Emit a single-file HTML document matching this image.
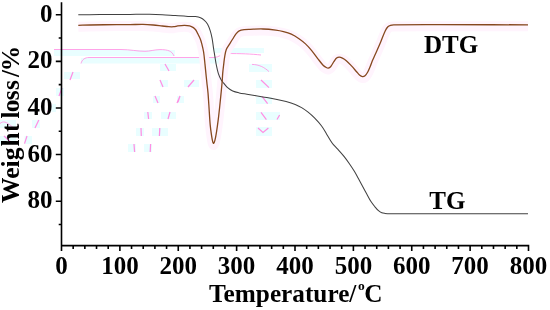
<!DOCTYPE html>
<html><head><meta charset="utf-8"><title>TG-DTG</title>
<style>
html,body{margin:0;padding:0;background:#fff;}
body{width:550px;height:310px;overflow:hidden;}
svg{display:block;}
text{font-family:"Liberation Serif","DejaVu Serif",serif;font-weight:bold;font-size:25px;fill:#000;}
</style></head><body>
<svg width="550" height="310" viewBox="0 0 550 310">
<rect width="550" height="310" fill="#fff"/>
<g><rect x="54" y="50" width="121" height="6" fill="#e9feff"/>
<rect x="214" y="48" width="50" height="5" fill="#e9feff"/>
<rect x="81" y="58" width="145" height="5.5" fill="#e9feff"/>
<rect x="64" y="72" width="16" height="7" fill="#e9feff"/>
<rect x="56" y="88" width="8" height="8" fill="#e9feff"/>
<rect x="160" y="64" width="16" height="7" fill="#e9feff"/>
<rect x="160" y="80" width="8" height="7" fill="#e9feff"/>
<rect x="184" y="80" width="15" height="7" fill="#e9feff"/>
<rect x="153" y="96" width="7" height="7" fill="#e9feff"/>
<rect x="177" y="96" width="7" height="7" fill="#e9feff"/>
<rect x="144" y="112" width="8" height="7" fill="#e9feff"/>
<rect x="161" y="112" width="15" height="7" fill="#e9feff"/>
<rect x="136" y="128" width="8" height="8" fill="#e9feff"/>
<rect x="152" y="128" width="16" height="8" fill="#e9feff"/>
<rect x="128" y="144" width="8" height="8" fill="#e9feff"/>
<rect x="144" y="144" width="8" height="8" fill="#e9feff"/>
<rect x="200" y="64" width="8" height="7" fill="#e9feff"/>
<rect x="249" y="64" width="23" height="8" fill="#e9feff"/>
<rect x="256" y="80" width="16" height="8" fill="#e9feff"/>
<rect x="256" y="97" width="16" height="7" fill="#e9feff"/>
<rect x="256" y="112" width="24" height="8" fill="#e9feff"/>
<rect x="256" y="127" width="16" height="9" fill="#e9feff"/>
<rect x="32" y="120" width="8" height="8" fill="#e9feff"/>
<rect x="51.5" y="104" width="4.5" height="8" fill="#e9feff"/>
<rect x="0" y="120" width="16" height="8" fill="#e9feff"/>
<rect x="24.5" y="136" width="7.5" height="8" fill="#e9feff"/>
<rect x="0" y="136" width="16" height="8" fill="#e9feff"/>
<path d="M70,80 L73,72 M59,96 L62,88 M165,64 L169,71 M160,80 L163,87 M194,80 L188,87 M155,96 L158,103 M180,96 L177,103 M147.8,112 L148.6,119 M170,112 L168,119 M206,64 L202,71 M141,128 L141.3,136 M159.8,128 L159.4,136 M134,144 L134.6,152 M150.6,144 L150.2,152 M261,80 L269,87.6 M262,96.4 L267.6,103.6 M261,112.4 L266.4,119.6 M277,119.5 L279.6,115 M35,128 L38.8,120 M47.7,112.3 L51,104.5 M24.5,143.6 L27,136 M4,136 L13,144 M178,102 L180,96 M258,128 L263,132.4 L268.4,128" fill="none" stroke="#ff8fe3" stroke-width="1.25"/>
<path d="M54,49.5 H121 C130,49.5 137,51.3 145,51.3 C150,51.3 154,49.7 160,49.6 C168,49.6 172,51 174,56 M81,63.5 C82,59.5 85,57.5 89,57.5 H214 C219,57.5 221,53.8 227,53.6 C240,53.4 252,54 261,55 M252,64.4 C259,64.6 264,67 269,71.6 M0,123.5 C3,121 6,121 13,127.5" fill="none" stroke="#ff98e5" stroke-width="0.9"/></g>
<path d="M61.50,2.30 V245.60 H529.30 M61.50,245.60 v5.30 M73.17,245.60 v3.30 M84.85,245.60 v3.30 M96.53,245.60 v3.30 M108.20,245.60 v3.30 M119.88,245.60 v5.30 M131.55,245.60 v3.30 M143.22,245.60 v3.30 M154.90,245.60 v3.30 M166.57,245.60 v3.30 M178.25,245.60 v5.30 M189.93,245.60 v3.30 M201.60,245.60 v3.30 M213.28,245.60 v3.30 M224.95,245.60 v3.30 M236.62,245.60 v5.30 M248.30,245.60 v3.30 M259.98,245.60 v3.30 M271.65,245.60 v3.30 M283.32,245.60 v3.30 M295.00,245.60 v5.30 M306.68,245.60 v3.30 M318.35,245.60 v3.30 M330.02,245.60 v3.30 M341.70,245.60 v3.30 M353.38,245.60 v5.30 M365.05,245.60 v3.30 M376.73,245.60 v3.30 M388.40,245.60 v3.30 M400.07,245.60 v3.30 M411.75,245.60 v5.30 M423.43,245.60 v3.30 M435.10,245.60 v3.30 M446.77,245.60 v3.30 M458.45,245.60 v3.30 M470.12,245.60 v5.30 M481.80,245.60 v3.30 M493.48,245.60 v3.30 M505.15,245.60 v3.30 M516.83,245.60 v3.30 M528.50,245.60 v5.30 M61.50,14.70 h-5.70 M61.50,38.01 h-2.80 M61.50,61.33 h-5.70 M61.50,84.64 h-2.80 M61.50,107.95 h-5.70 M61.50,131.26 h-2.80 M61.50,154.57 h-5.70 M61.50,177.89 h-2.80 M61.50,201.20 h-5.70 M61.50,224.51 h-2.80" fill="none" stroke="#000" stroke-width="1.6" stroke-linecap="butt" stroke-linejoin="miter"/>
<path d="M78.30,26.80 C82.20,26.70 86.10,26.57 90.00,26.50 C98.87,26.34 107.73,26.19 116.60,26.10 C121.07,26.06 125.53,26.13 130.00,26.10 C134.30,26.07 138.60,25.83 142.90,25.90 C146.34,25.96 149.77,26.22 153.20,26.50 C156.24,26.75 159.27,27.17 162.30,27.50 C164.43,27.73 166.56,28.07 168.70,28.20 C170.43,28.30 172.18,28.35 173.90,28.20 C175.18,28.09 176.42,27.57 177.70,27.40 C179.85,27.11 182.03,26.82 184.20,26.80 C186.00,26.78 187.87,26.87 189.60,27.30 C190.94,27.63 192.26,28.33 193.40,29.10 C194.32,29.73 195.15,30.59 195.80,31.50 C196.62,32.65 197.16,34.02 197.80,35.30 C198.66,37.02 199.59,38.72 200.30,40.50 C200.92,42.05 201.39,43.68 201.80,45.30 C202.49,48.01 203.17,50.74 203.60,53.50 C204.24,57.60 204.56,61.76 205.00,65.90 C205.32,68.90 205.59,71.90 205.90,74.90 C206.19,77.77 206.49,80.63 206.80,83.50 C207.19,87.13 207.68,90.76 208.00,94.40 C208.38,98.69 208.60,103.00 208.90,107.30 C209.34,113.67 209.64,120.05 210.20,126.40 C210.50,129.85 210.99,133.28 211.50,136.70 C211.82,138.88 212.16,141.08 212.70,143.20 C212.86,143.82 213.33,145.06 213.60,144.90 C214.06,144.63 214.64,142.95 214.90,141.90 C215.64,138.95 216.12,135.91 216.60,132.90 C217.25,128.85 217.79,124.77 218.30,120.70 C218.86,116.24 219.32,111.77 219.80,107.30 C220.26,103.00 220.68,98.70 221.10,94.40 C221.48,90.53 221.88,86.67 222.20,82.80 C222.42,80.17 222.47,77.53 222.70,74.90 C222.97,71.89 223.34,68.90 223.70,65.90 C224.01,63.30 224.25,60.68 224.70,58.10 C225.12,55.71 225.44,53.23 226.30,51.00 C227.04,49.10 228.43,47.46 229.50,45.70 C230.56,43.96 231.61,42.22 232.70,40.50 C233.78,38.79 234.74,36.97 236.00,35.40 C236.91,34.27 237.94,33.05 239.20,32.40 C240.74,31.61 242.64,31.36 244.40,31.10 C246.24,30.83 248.13,30.86 250.00,30.80 C254.30,30.66 258.61,30.37 262.90,30.50 C267.21,30.63 271.52,31.06 275.80,31.60 C278.39,31.93 280.98,32.43 283.50,33.10 C286.14,33.80 288.82,34.56 291.30,35.70 C293.99,36.93 296.55,38.53 299.00,40.20 C301.29,41.76 303.48,43.51 305.50,45.40 C307.71,47.47 309.76,49.76 311.70,52.10 C313.89,54.73 315.79,57.60 317.90,60.30 C319.59,62.47 321.21,64.74 323.10,66.70 C324.01,67.64 325.17,68.36 326.30,69.00 C326.87,69.32 327.61,69.73 328.20,69.60 C329.11,69.40 330.15,68.75 330.80,68.00 C332.08,66.52 332.86,64.55 334.00,62.90 C334.79,61.75 335.55,60.45 336.60,59.60 C337.29,59.05 338.32,58.70 339.20,58.70 C340.26,58.70 341.42,59.12 342.40,59.60 C343.78,60.28 345.12,61.19 346.30,62.20 C348.15,63.79 349.83,65.61 351.50,67.40 C353.26,69.28 354.90,71.27 356.60,73.20 C357.66,74.40 358.59,75.78 359.80,76.80 C360.53,77.41 361.50,78.01 362.40,78.10 C363.24,78.18 364.33,77.85 365.00,77.30 C366.07,76.42 366.89,75.06 367.60,73.80 C368.63,71.96 369.38,69.95 370.20,68.00 C371.08,65.89 371.82,63.71 372.70,61.60 C373.52,59.65 374.45,57.74 375.30,55.80 C377.15,51.61 379.01,47.42 380.80,43.20 C382.35,39.55 383.60,35.76 385.30,32.20 C385.97,30.80 386.84,29.40 387.90,28.30 C388.58,27.60 389.57,27.11 390.50,26.80 C391.50,26.47 392.63,26.42 393.70,26.40 C404.46,26.22 415.23,26.21 426.00,26.20 C460.00,26.17 494.00,26.27 528.00,26.30" fill="none" stroke="#fff4fd" stroke-width="10" stroke-linejoin="round" stroke-linecap="butt"/>
<path d="M78.30,14.70 C85.53,14.67 92.77,14.64 100.00,14.60 C110.00,14.54 120.00,14.46 130.00,14.40 C136.47,14.36 142.93,14.24 149.40,14.30 C153.70,14.34 158.00,14.48 162.30,14.70 C166.60,14.92 170.90,15.32 175.20,15.60 C179.47,15.88 183.73,16.19 188.00,16.40 C190.50,16.52 193.02,16.34 195.50,16.60 C197.19,16.78 198.95,17.06 200.50,17.70 C201.92,18.29 203.26,19.26 204.40,20.30 C205.63,21.42 206.78,22.75 207.60,24.20 C208.72,26.18 209.51,28.41 210.20,30.60 C211.01,33.14 211.61,35.77 212.10,38.40 C212.74,41.81 213.07,45.27 213.60,48.70 C213.94,50.90 214.34,53.10 214.70,55.30 C215.20,58.33 215.60,61.39 216.20,64.40 C216.80,67.42 217.37,70.48 218.30,73.40 C219.00,75.61 219.98,77.77 221.10,79.80 C221.78,81.04 222.79,82.10 223.70,83.20 C224.96,84.73 226.11,86.41 227.60,87.70 C229.11,89.01 230.87,90.18 232.70,91.00 C234.74,91.91 237.00,92.40 239.20,92.90 C241.73,93.47 244.33,93.77 246.90,94.20 C249.93,94.71 252.97,95.19 256.00,95.70 C258.30,96.09 260.60,96.49 262.90,96.90 C267.20,97.66 271.52,98.35 275.80,99.20 C279.25,99.88 282.71,100.59 286.10,101.50 C289.17,102.32 292.25,103.24 295.20,104.40 C297.41,105.27 299.56,106.38 301.60,107.60 C303.86,108.95 306.05,110.46 308.10,112.10 C310.35,113.89 312.50,115.84 314.50,117.90 C317.00,120.47 319.46,123.13 321.60,126.00 C323.56,128.63 325.09,131.59 326.80,134.40 C328.09,136.52 329.26,138.71 330.60,140.80 C331.46,142.15 332.37,143.48 333.40,144.70 C334.74,146.28 336.31,147.66 337.70,149.20 C339.91,151.63 342.14,154.05 344.20,156.60 C346.04,158.88 347.73,161.29 349.40,163.70 C351.17,166.25 352.89,168.85 354.50,171.50 C355.89,173.78 357.11,176.16 358.40,178.50 C359.48,180.46 360.53,182.43 361.60,184.40 C363.37,187.67 365.12,190.94 366.90,194.20 C368.19,196.57 369.36,199.03 370.80,201.30 C371.96,203.13 373.33,204.83 374.70,206.50 C375.90,207.96 377.10,209.46 378.50,210.70 C379.47,211.56 380.62,212.31 381.80,212.80 C382.78,213.21 383.92,213.28 385.00,213.40 C386.72,213.58 388.46,213.68 390.20,213.70 C398.80,213.81 407.40,213.79 416.00,213.80 C453.33,213.83 490.67,213.80 528.00,213.80" fill="none" stroke="#414141" stroke-width="1.05" stroke-linejoin="round"/>
<path d="M78.30,25.30 C82.20,25.20 86.10,25.07 90.00,25.00 C98.87,24.84 107.73,24.69 116.60,24.60 C121.07,24.56 125.53,24.63 130.00,24.60 C134.30,24.57 138.60,24.33 142.90,24.40 C146.34,24.46 149.77,24.72 153.20,25.00 C156.24,25.25 159.27,25.67 162.30,26.00 C164.43,26.23 166.56,26.57 168.70,26.70 C170.43,26.80 172.18,26.85 173.90,26.70 C175.18,26.59 176.42,26.07 177.70,25.90 C179.85,25.61 182.03,25.32 184.20,25.30 C186.00,25.28 187.87,25.37 189.60,25.80 C190.94,26.13 192.26,26.83 193.40,27.60 C194.32,28.23 195.15,29.09 195.80,30.00 C196.62,31.15 197.16,32.52 197.80,33.80 C198.66,35.52 199.59,37.22 200.30,39.00 C200.92,40.55 201.39,42.18 201.80,43.80 C202.49,46.51 203.17,49.24 203.60,52.00 C204.24,56.10 204.56,60.26 205.00,64.40 C205.32,67.40 205.59,70.40 205.90,73.40 C206.19,76.27 206.49,79.13 206.80,82.00 C207.19,85.63 207.68,89.26 208.00,92.90 C208.38,97.19 208.60,101.50 208.90,105.80 C209.34,112.17 209.64,118.55 210.20,124.90 C210.50,128.35 210.99,131.78 211.50,135.20 C211.82,137.38 212.16,139.58 212.70,141.70 C212.86,142.32 213.33,143.56 213.60,143.40 C214.06,143.13 214.64,141.45 214.90,140.40 C215.64,137.45 216.12,134.41 216.60,131.40 C217.25,127.35 217.79,123.27 218.30,119.20 C218.86,114.74 219.32,110.27 219.80,105.80 C220.26,101.50 220.68,97.20 221.10,92.90 C221.48,89.03 221.88,85.17 222.20,81.30 C222.42,78.67 222.47,76.03 222.70,73.40 C222.97,70.39 223.34,67.40 223.70,64.40 C224.01,61.80 224.25,59.18 224.70,56.60 C225.12,54.21 225.44,51.73 226.30,49.50 C227.04,47.60 228.43,45.96 229.50,44.20 C230.56,42.46 231.61,40.72 232.70,39.00 C233.78,37.29 234.74,35.47 236.00,33.90 C236.91,32.77 237.94,31.55 239.20,30.90 C240.74,30.11 242.64,29.86 244.40,29.60 C246.24,29.33 248.13,29.36 250.00,29.30 C254.30,29.16 258.61,28.87 262.90,29.00 C267.21,29.13 271.52,29.56 275.80,30.10 C278.39,30.43 280.98,30.93 283.50,31.60 C286.14,32.30 288.82,33.06 291.30,34.20 C293.99,35.43 296.55,37.03 299.00,38.70 C301.29,40.26 303.48,42.01 305.50,43.90 C307.71,45.97 309.76,48.26 311.70,50.60 C313.89,53.23 315.79,56.10 317.90,58.80 C319.59,60.97 321.21,63.24 323.10,65.20 C324.01,66.14 325.17,66.86 326.30,67.50 C326.87,67.82 327.61,68.23 328.20,68.10 C329.11,67.90 330.15,67.25 330.80,66.50 C332.08,65.02 332.86,63.05 334.00,61.40 C334.79,60.25 335.55,58.95 336.60,58.10 C337.29,57.55 338.32,57.20 339.20,57.20 C340.26,57.20 341.42,57.62 342.40,58.10 C343.78,58.78 345.12,59.69 346.30,60.70 C348.15,62.29 349.83,64.11 351.50,65.90 C353.26,67.78 354.90,69.77 356.60,71.70 C357.66,72.90 358.59,74.28 359.80,75.30 C360.53,75.91 361.50,76.51 362.40,76.60 C363.24,76.68 364.33,76.35 365.00,75.80 C366.07,74.92 366.89,73.56 367.60,72.30 C368.63,70.46 369.38,68.45 370.20,66.50 C371.08,64.39 371.82,62.21 372.70,60.10 C373.52,58.15 374.45,56.24 375.30,54.30 C377.15,50.11 379.01,45.92 380.80,41.70 C382.35,38.05 383.60,34.26 385.30,30.70 C385.97,29.30 386.84,27.90 387.90,26.80 C388.58,26.10 389.57,25.61 390.50,25.30 C391.50,24.97 392.63,24.92 393.70,24.90 C404.46,24.72 415.23,24.71 426.00,24.70 C460.00,24.67 494.00,24.77 528.00,24.80" fill="none" stroke="#86481f" stroke-width="1.3" stroke-linejoin="round"/>
<g><text x="61.50" y="273.8" text-anchor="middle">0</text><text x="119.88" y="273.8" text-anchor="middle">100</text><text x="178.25" y="273.8" text-anchor="middle">200</text><text x="236.62" y="273.8" text-anchor="middle">300</text><text x="295.00" y="273.8" text-anchor="middle">400</text><text x="353.38" y="273.8" text-anchor="middle">500</text><text x="411.75" y="273.8" text-anchor="middle">600</text><text x="470.12" y="273.8" text-anchor="middle">700</text><text x="528.50" y="273.8" text-anchor="middle">800</text></g>
<g><text x="52.6" y="21.80" text-anchor="end">0</text><text x="52.6" y="68.42" text-anchor="end">20</text><text x="52.6" y="115.05" text-anchor="end">40</text><text x="52.6" y="161.67" text-anchor="end">60</text><text x="52.6" y="208.30" text-anchor="end">80</text></g>
<text x="424" y="53">DTG</text>
<text x="429.3" y="209">TG</text>
<text x="209.1" y="302.2" style="font-size:25.25px">Temperature/<tspan style="font-size:13.5px" dy="-12" dx="1.5">o</tspan><tspan dy="12" dx="-0.3">C</tspan></text>
<text transform="translate(18.7,202.7) rotate(-90)" style="font-size:25.5px" x="-0.33 24.04 35.16 42.56 56.2 70.65 79.3 84.28 90.4 102.5 112.8 125.65 131.5">Weight loss/%</text>
</svg>
</body></html>
